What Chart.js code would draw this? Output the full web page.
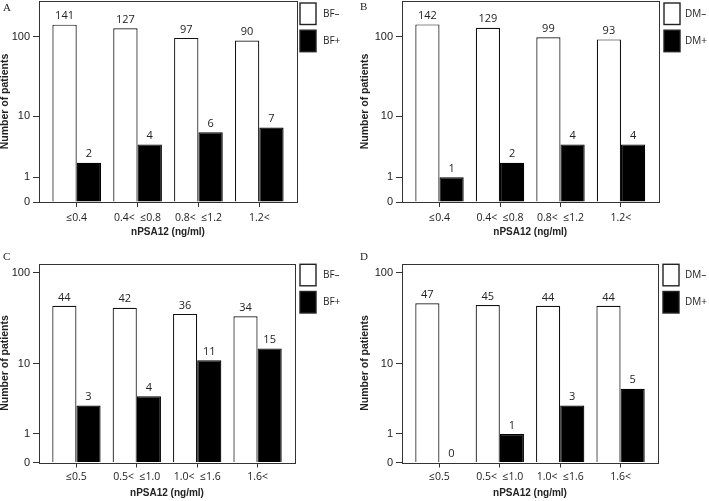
<!DOCTYPE html>
<html>
<head>
<meta charset="utf-8">
<script src="https://cdn.jsdelivr.net/npm/chart.js@4.4.1/dist/chart.umd.min.js"></script>
<style>
  html, body { margin: 0; padding: 0; background: #fff; }
  #wrap { position: relative; width: 709px; height: 501px; overflow: hidden; background: #fff; }
  #wrap canvas { position: absolute; }
  .tag { position: absolute; font-family: "Liberation Serif", serif; font-size: 11px; line-height: 11px; color: #222; }
</style>
</head>
<body>
<div id="wrap">
  <canvas id="chartA" width="350" height="250" style="left:0;top:0"></canvas>
  <canvas id="chartB" width="359" height="250" style="left:350px;top:0"></canvas>
  <canvas id="chartC" width="350" height="251" style="left:0;top:250px"></canvas>
  <canvas id="chartD" width="359" height="251" style="left:350px;top:250px"></canvas>
  <div class="tag" style="left:3px;top:2px">A</div>
  <div class="tag" style="left:360px;top:1px">B</div>
  <div class="tag" style="left:3px;top:251px">C</div>
  <div class="tag" style="left:360px;top:251px">D</div>
</div>
<script>
// data
const catsTop = ['≤0.4', '0.4<  ≤0.8', '0.8<  ≤1.2', '1.2<'];
const catsBottom = ['≤0.5', '0.5<  ≤1.0', '1.0<  ≤1.6', '1.6<'];
const bfNegA = [141, 127, 97, 90];
const bfPosA = [2, 4, 6, 7];
const dmNegB = [142, 129, 99, 93];
const dmPosB = [1, 2, 4, 4];
const bfNegC = [44, 42, 36, 34];
const bfPosC = [3, 4, 11, 15];
const dmNegD = [47, 45, 44, 44];
const dmPosD = [0, 1, 3, 5];
const bfLabels = ['BF–', 'BF+'];
const dmLabels = ['DM–', 'DM+'];
const yTicks = [0, 1, 10, 100];

// y axis in the figure is log10(n + 1), so 0 sits on the axis
class Log1pScale extends Chart.LinearScale {
    buildTicks() {
        return yTicks.map(v => ({ value: v }));
    }
    getPixelForValue(value) {
        const lo = Math.log10(this.min + 1), hi = Math.log10(this.max + 1);
        return this.getPixelForDecimal((Math.log10(value + 1) - lo) / (hi - lo));
    }
    getValueForPixel(pixel) {
        const lo = Math.log10(this.min + 1), hi = Math.log10(this.max + 1);
        return Math.pow(10, lo + this.getDecimalForPixel(pixel) * (hi - lo)) - 1;
    }
}
Log1pScale.id = 'log1p';
Log1pScale.defaults = {};
Chart.register(Log1pScale);

const ink = '#222';

const framePlugin = {
    id: 'frame',
    afterDatasetsDraw(chart) {
        const a = chart.chartArea, ctx = chart.ctx;
        ctx.save();
        ctx.strokeStyle = '#333';
        ctx.lineWidth = 1;
        ctx.strokeRect(Math.round(a.left) + 0.5, Math.round(a.top) + 0.5,
            Math.round(a.right - a.left), Math.round(a.bottom - a.top));
        // value labels above the bars
        ctx.fillStyle = ink;
        ctx.font = '11px "Open Sans"';
        ctx.textAlign = 'center';
        ctx.textBaseline = 'middle';
        chart.data.datasets.forEach((ds, di) => {
            chart.getDatasetMeta(di).data.forEach((bar, i) => {
                ctx.fillText(String(ds.data[i].y), bar.x, bar.y - 8.5);
            });
        });
        ctx.restore();
    },
    afterDraw(chart) {
        const lg = chart.options.plugins.frame;
        const ctx = chart.ctx;
        ctx.save();
        ctx.font = '10px "Open Sans"';
        ctx.textBaseline = 'middle';
        ctx.textAlign = 'left';
        chart.data.datasets.forEach((ds, i) => {
            const y = lg.y + i * 27.2;
            ctx.fillStyle = ds.backgroundColor;
            ctx.fillRect(lg.x, y, 16, 21.5);
            ctx.strokeStyle = '#222';
            ctx.lineWidth = 1.4;
            ctx.strokeRect(lg.x, y, 16, 21.5);
            ctx.fillStyle = ink;
            ctx.fillText(ds.label, lg.x + lg.tx, y + 11);
        });
        ctx.restore();
    }
};

function makePanel(id, cats, neg, pos, labels, p) {
    return new Chart(document.getElementById(id), {
        type: 'bar',
        data: {
            datasets: [{
                label: labels[0],
                data: neg.map((v, i) => ({ x: i, y: v })),
                backgroundColor: '#fff',
                borderColor: '#111',
                borderWidth: 1.2
            }, {
                label: labels[1],
                data: pos.map((v, i) => ({ x: i, y: v })),
                backgroundColor: '#000',
                borderColor: '#000',
                borderWidth: 1.2
            }]
        },
        options: {
            responsive: false,
            animation: false,
            devicePixelRatio: 1,
            layout: { padding: { left: 0, top: p.top, right: p.w - p.right, bottom: 0 } },
            datasets: { bar: { categoryPercentage: 0.8, barPercentage: 1 } },
            plugins: {
                legend: { display: false },
                tooltip: { enabled: false },
                frame: p.legend
            },
            scales: {
                x: {
                    type: 'linear',
                    min: -0.62,
                    max: 3.62,
                    offset: false,
                    afterBuildTicks: s => { s.ticks = cats.map((c, i) => ({ value: i })); },
                    afterFit: s => { s.height = p.h - p.bottom; s.paddingLeft = 0; s.paddingRight = 0; },
                    grid: { offset: false, drawOnChartArea: false, drawTicks: true, tickLength: 5, tickColor: '#333' },
                    border: { display: false },
                    ticks: {
                        autoSkip: false,
                        maxRotation: 0,
                        padding: p.tickPad,
                        color: ink,
                        font: { family: 'Open Sans', size: 10.5 },
                        callback: v => cats[v]
                    },
                    title: {
                        display: true,
                        text: 'nPSA12 (ng/ml)',
                        color: ink,
                        font: { family: 'Liberation Sans', size: 10, weight: 'bold', lineHeight: 1 },
                        padding: { top: 0, bottom: p.xTitlePad }
                    }
                },
                y: {
                    type: 'log1p',
                    min: 0,
                    max: p.yMax,
                    afterFit: s => { s.width = p.left; s.paddingTop = 0; s.paddingBottom = 0; },
                    grid: { drawOnChartArea: false, drawTicks: true, tickLength: 6, tickColor: '#333' },
                    border: { display: false },
                    ticks: {
                        autoSkip: false,
                        padding: 3,
                        color: ink,
                        font: { family: 'Liberation Sans', size: 11 },
                        callback: v => String(v)
                    },
                    title: {
                        display: true,
                        text: 'Number of patients',
                        color: ink,
                        font: { family: 'Liberation Sans', size: 10.5, weight: 'bold', lineHeight: 1 },
                        padding: { top: p.yTitlePad, bottom: 0 }
                    }
                }
            }
        },
        plugins: [framePlugin]
    });
}

makePanel('chartA', catsTop, bfNegA, bfPosA, bfLabels,
    { w: 350, h: 250, left: 39, right: 297, top: 1, bottom: 202, yMax: 274,
      tickPad: 5, xTitlePad: 13, yTitlePad: 0, legend: { x: 300, y: 3, tx: 23 } });
makePanel('chartB', catsTop, dmNegB, dmPosB, dmLabels,
    { w: 359, h: 250, left: 52, right: 308.5, top: 1, bottom: 202, yMax: 274,
      tickPad: 5, xTitlePad: 13, yTitlePad: 9.75, legend: { x: 314, y: 3, tx: 21 } });
makePanel('chartC', catsBottom, bfNegC, bfPosC, bfLabels,
    { w: 350, h: 251, left: 39, right: 295, top: 13.5, bottom: 212.5, yMax: 125,
      tickPad: 3.5, xTitlePad: 3, yTitlePad: 0, legend: { x: 300, y: 14.3, tx: 23 } });
makePanel('chartD', catsBottom, dmNegD, dmPosD, dmLabels,
    { w: 359, h: 251, left: 52, right: 308, top: 13.5, bottom: 212.5, yMax: 125,
      tickPad: 3.5, xTitlePad: 3, yTitlePad: 9.75, legend: { x: 313, y: 14.3, tx: 22 } });
</script>
</body>
</html>
